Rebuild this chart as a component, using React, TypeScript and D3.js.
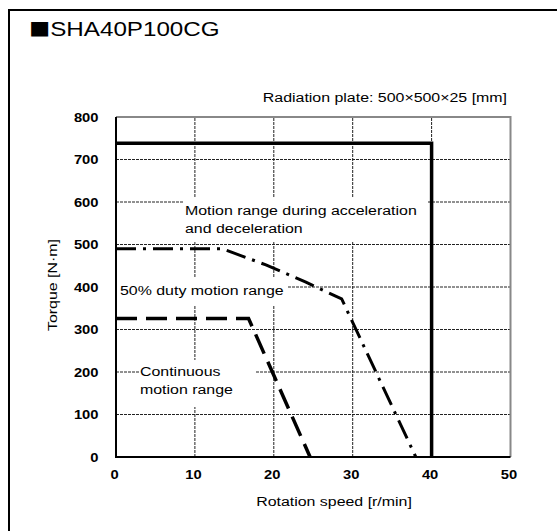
import React from 'react';
import * as d3 from 'd3';

const speedTicks = [0, 10, 20, 30, 40, 50];
const torqueTicks = [0, 100, 200, 300, 400, 500, 600, 700, 800];

// momentary max (solid)
const accelSpeed = [0, 40, 40];
const accelTorque = [738, 738, 0];
// 50% duty (dash-dot)
const dutySpeed = [0, 13.5, 19, 24, 28.6, 38];
const dutyTorque = [490, 490, 452, 412, 372, 0];
// continuous (dashed)
const contSpeed = [0, 16.8, 24.6];
const contTorque = [326, 326, 0];

const W = 557;
const H = 531;
const FONT = '"Liberation Sans", Arial, sans-serif';
const SX = 1.18; // the source font is wider than Arial

const x = d3.scaleLinear().domain([0, 50]).range([116, 510.5]);
const y = d3.scaleLinear().domain([0, 800]).range([457, 117]);

const line = d3.line<[number, number]>()
  .x(d => x(d[0]))
  .y(d => y(d[1]));

const zip = (a: number[], b: number[]) => a.map((v, i) => [v, b[i]] as [number, number]);

// stretched text helper
const T: React.FC<{
  x: number; y: number; size: number; anchor?: string; bold?: boolean; rotate?: number; children: React.ReactNode;
}> = ({ x: tx, y: ty, size, anchor = 'start', bold = false, rotate = 0, children }) => (
  <text
    transform={`translate(${tx},${ty}) rotate(${rotate}) scale(${SX},1)`}
    fontSize={size}
    fontFamily={FONT}
    fontWeight={bold ? 'bold' : 'normal'}
    textAnchor={anchor}
    fill="#000"
  >
    {children}
  </text>
);

export default function App() {
  const [x0, x1] = x.range();
  const [y0, y1] = y.range();

  return (
    <div style={{ position: 'absolute', left: 0, top: 0 }}>
      <svg width={W} height={H} style={{ display: 'block', background: '#fff' }}>
        {/* outer frame */}
        <path d={`M9,${H + 5} V10 H${W + 5}`} fill="none" stroke="#000" strokeWidth={2} />

        <T x={29} y={36} size={20.5}>
          <tspan fontFamily='"Noto Sans CJK JP", "DejaVu Sans", sans-serif' fontSize={18}>■</tspan>SHA40P100CG
        </T>
        <T x={507} y={102} size={13.5} anchor="end">Radiation plate: 500×500×25 [mm]</T>

        {/* grid */}
        <g stroke="#222" strokeWidth={1} strokeDasharray="3,1">
          {torqueTicks.filter(t => t > 0 && t < 800).map(t => (
            <line key={`h${t}`} x1={x0} x2={x1} y1={y(t)} y2={y(t)} />
          ))}
          {speedTicks.filter(t => t > 0 && t < 50).map(t => (
            <line key={`v${t}`} x1={x(t)} x2={x(t)} y1={y0} y2={y1} />
          ))}
        </g>

        {/* label backgrounds hide grid */}
        <rect x={183} y={198} width={244} height={43} fill="#fff" />
        <rect x={117} y={277} width={171} height={29} fill="#fff" />
        <rect x={140} y={360} width={116} height={47} fill="#fff" />

        {/* plot border */}
        <path d={`M${x0},${y1} H${x1} V${y0}`} fill="none" stroke="#888" strokeWidth={2} />
        <path d={`M${x0},${y1} V${y0} H${x1}`} fill="none" stroke="#000" strokeWidth={2} />

        {/* series */}
        <path d={line(zip(contSpeed, contTorque)) || ''} fill="none" stroke="#000" strokeWidth={3.5} strokeDasharray="21,9" />
        <path d={line(zip(dutySpeed, dutyTorque)) || ''} fill="none" stroke="#000" strokeWidth={3} strokeDasharray="20,7,3,7" />
        <path d={line(zip(accelSpeed, accelTorque)) || ''} fill="none" stroke="#000" strokeWidth={3.5} />

        {/* ticks */}
        {torqueTicks.map(t => (
          <T key={`yl${t}`} x={98.5} y={y(t) + 4.5} size={12.5} bold anchor="end">{t}</T>
        ))}
        {speedTicks.map(t => (
          <T key={`xl${t}`} x={x(t) - 1.5} y={478.5} size={12.5} bold anchor="middle">{t}</T>
        ))}

        {/* axis titles */}
        <T x={334} y={506} size={13.5} anchor="middle">Rotation speed [r/min]</T>
        <T x={56.5} y={285} size={13.5} anchor="middle" rotate={-90}>Torque [N·m]</T>

        {/* region labels */}
        <T x={185} y={215} size={13.5}>Motion range during acceleration</T>
        <T x={185} y={233} size={13.5}>and deceleration</T>
        <T x={120} y={295} size={13.5}>50% duty motion range</T>
        <T x={140} y={375.5} size={13.5}>Continuous</T>
        <T x={140} y={393.5} size={13.5}>motion range</T>
      </svg>
    </div>
  );
}
